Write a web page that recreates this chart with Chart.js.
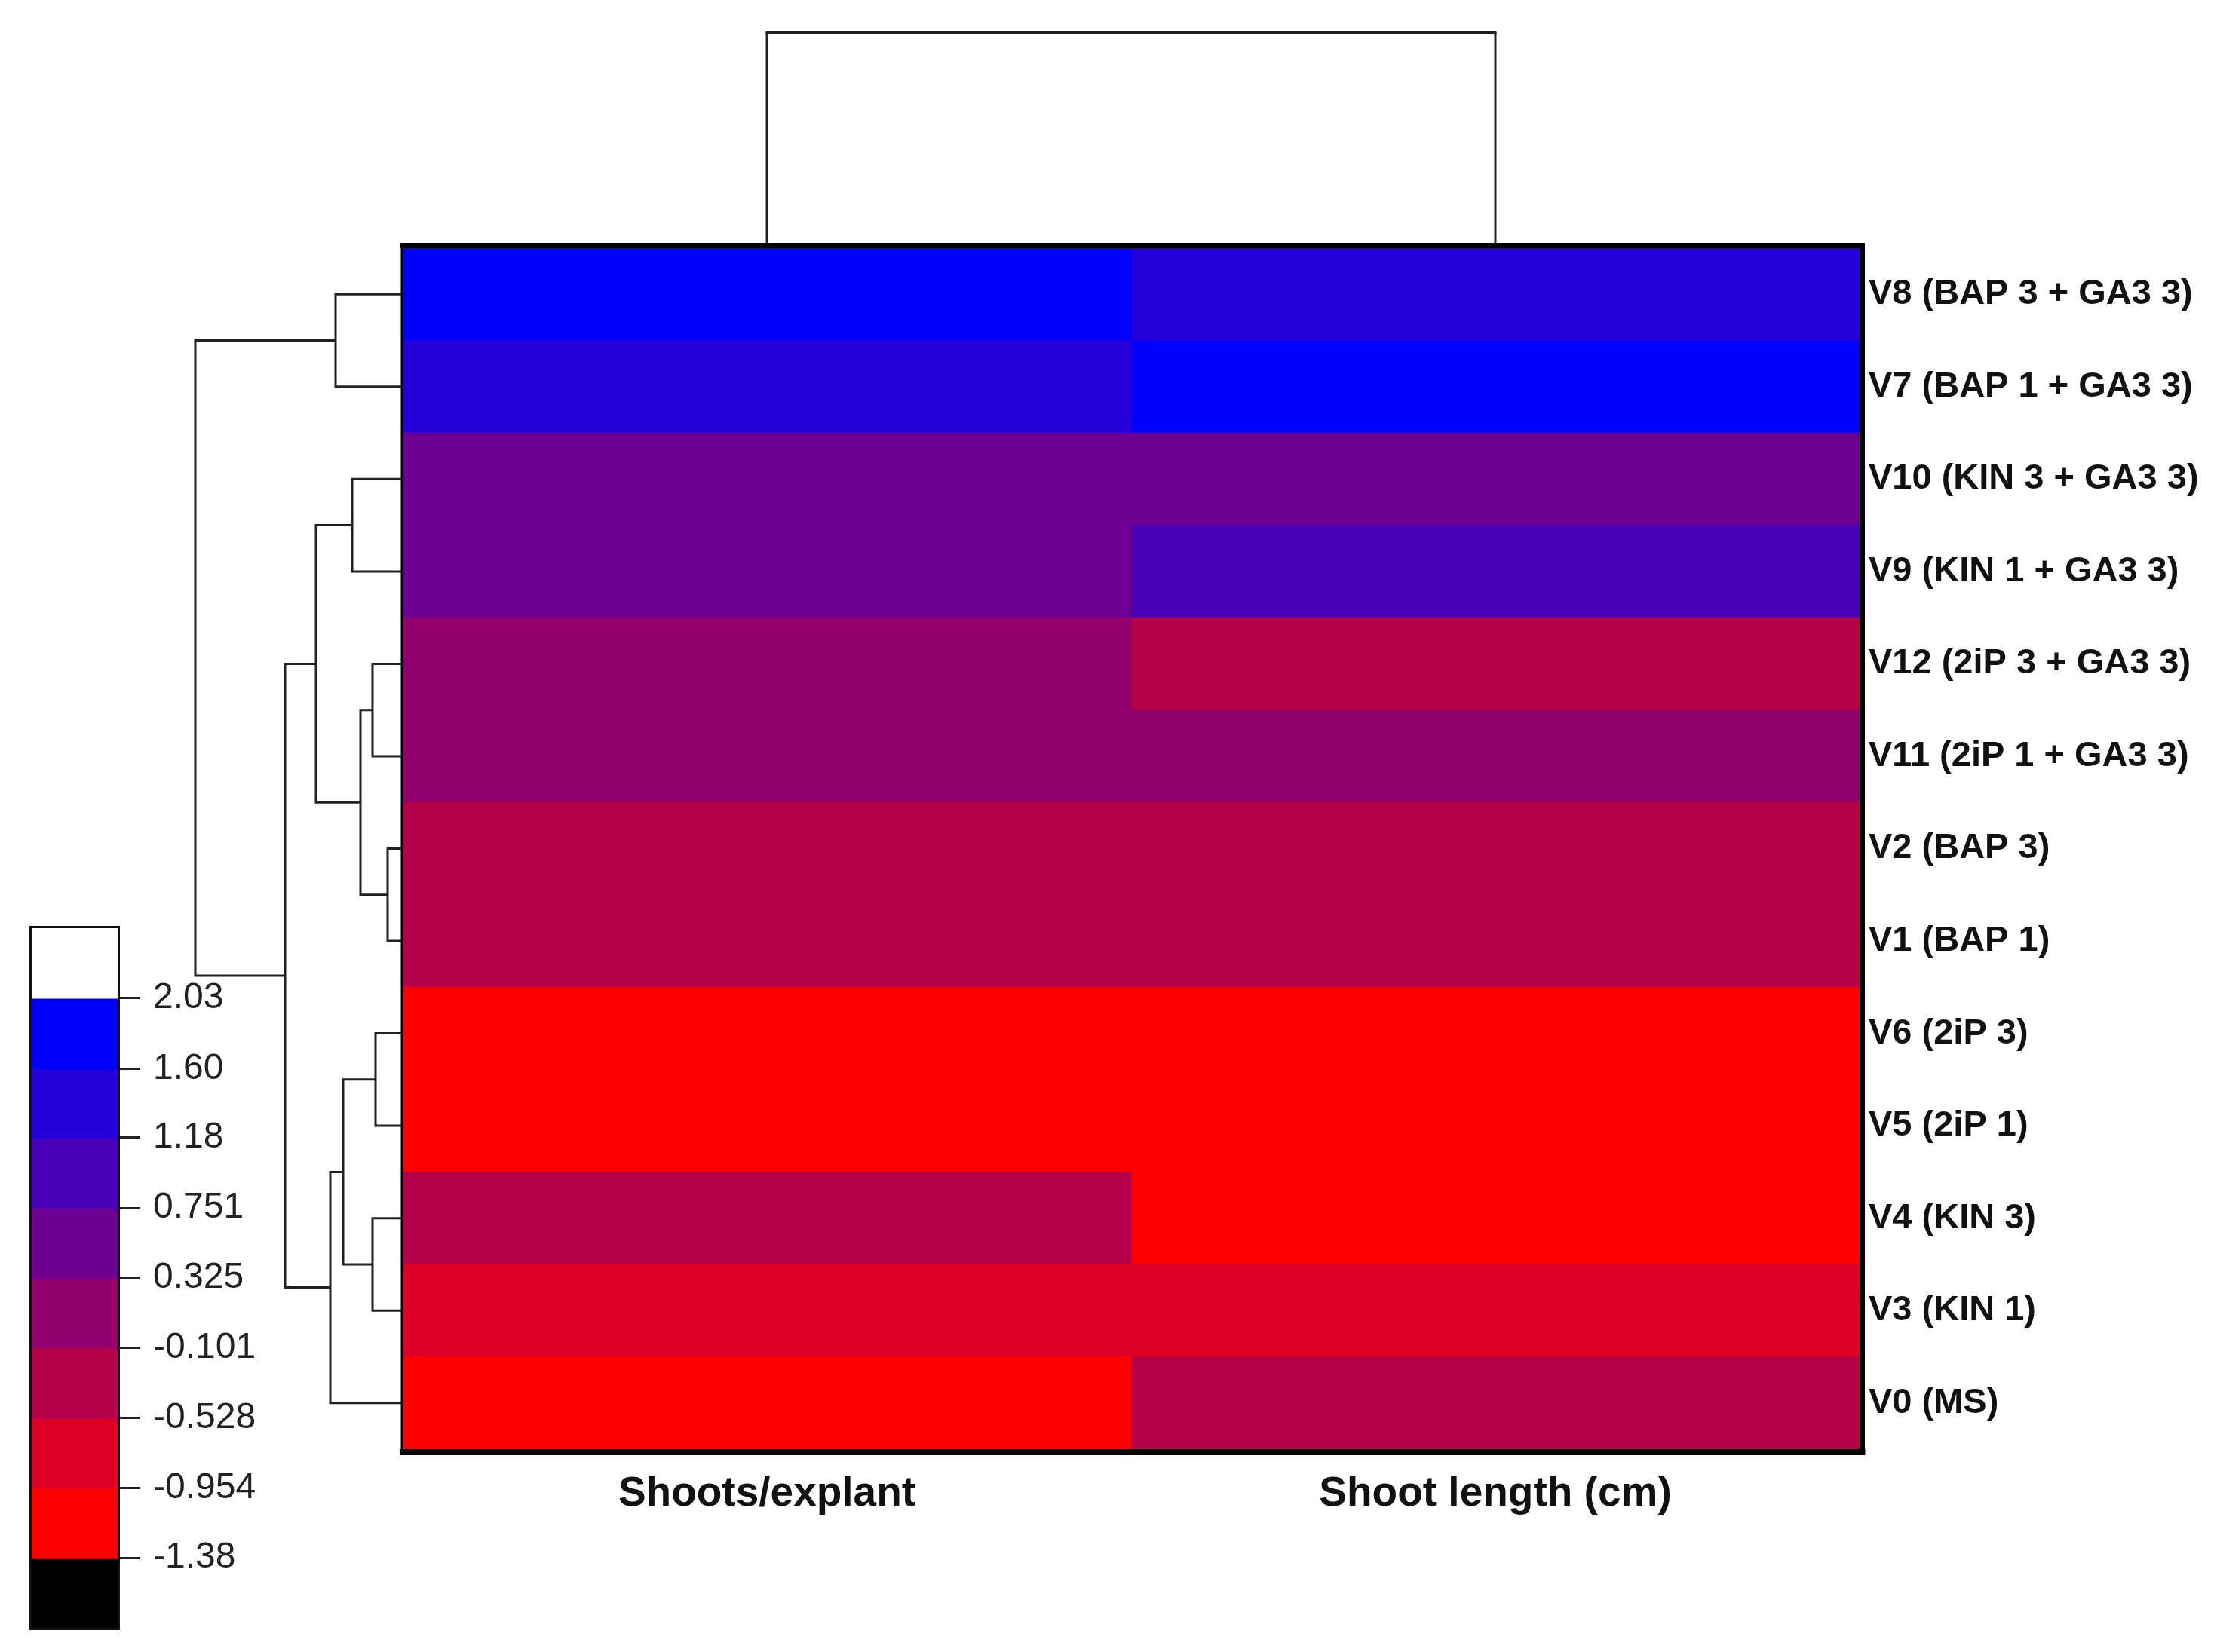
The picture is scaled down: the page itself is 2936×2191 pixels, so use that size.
<!DOCTYPE html>
<html>
<head>
<meta charset="utf-8">
<script src="https://cdn.jsdelivr.net/npm/chart.js@4.4.1/dist/chart.umd.min.js"></script>
<style>
  html, body { margin: 0; padding: 0; background: #ffffff; overflow: hidden; }
  #main { position: absolute; left: 0; top: 0; width: 2936px; height: 2191px; }
  #leg { position: absolute; left: 0; top: 1200px; width: 420px; height: 991px; }
</style>
</head>
<body>
<div id="leg"><canvas id="legCanvas"></canvas></div>
<div id="main"><canvas id="mainCanvas"></canvas></div>
<script>
// ---------- data ----------
const rowLabels = [
  "V8 (BAP 3 + GA3 3)", "V7 (BAP 1 + GA3 3)", "V10 (KIN 3 + GA3 3)", "V9 (KIN 1 + GA3 3)",
  "V12 (2iP 3 + GA3 3)", "V11 (2iP 1 + GA3 3)", "V2 (BAP 3)", "V1 (BAP 1)",
  "V6 (2iP 3)", "V5 (2iP 1)", "V4 (KIN 3)", "V3 (KIN 1)", "V0 (MS)"
];
const columnNames = ["Shoots/explant", "Shoot length (cm)"];
// standardized values, one array per column, rows in the order above
const shootsPerExplant = [1.98, 1.40, 0.55, 0.45, 0.10, 0.05, -0.35, -0.40, -1.20, -1.25, -0.50, -0.80, -1.35];
const shootLength      = [1.35, 2.00, 0.60, 0.90, -0.30, 0.00, -0.25, -0.35, -1.10, -1.15, -1.05, -0.75, -0.50];
// colour key
const legendTicks = [2.03, 1.60, 1.18, 0.751, 0.325, -0.101, -0.528, -0.954, -1.38];
const legendTickLabels = ["2.03", "1.60", "1.18", "0.751", "0.325", "-0.101", "-0.528", "-0.954", "-1.38"];
const legendColors = ["#FFFFFF", "#0000FF", "#2400DB", "#4900B6", "#6D0092", "#92006D", "#B60049", "#DB0024", "#FF0000", "#000000"];
// row dendrogram merges: [childA, childB, height]; leaves 0..12, new nodes 13..
const rowMerges = [
  [6, 7, 0.20], [8, 9, 0.36], [4, 5, 0.40], [10, 11, 0.40], [15, 13, 0.56], [2, 3, 0.67],
  [14, 16, 0.79], [0, 1, 0.89], [19, 12, 0.96], [18, 17, 1.15], [22, 21, 1.56], [20, 23, 2.75]
];
// column dendrogram merges
const colMerges = [[0, 1, 2.86]];

// ---------- helpers ----------
const FONT = "'Liberation Sans', Arial, Helvetica, sans-serif";
const ROW_PX = 100;   // px per distance unit (row tree)
const COL_PX = 100;   // px per distance unit (column tree)
const LINE = "#222222";

function colorFor(v) {
  for (let k = 0; k < legendTicks.length; k++) {
    if (v >= legendTicks[k]) return legendColors[k];
  }
  return legendColors[legendColors.length - 1];
}

const columns = [shootsPerExplant, shootLength];

// ---------- main heatmap ----------
const dendroPlugin = {
  id: 'dendro',
  afterDatasetsDraw(chart) {
    const ctx = chart.ctx;
    const a = chart.chartArea;
    const ys = chart.scales.y, xs = chart.scales.x;
    ctx.save();
    // borders
    ctx.strokeStyle = "#000000";
    ctx.lineCap = 'square';
    ctx.lineWidth = 7;
    ctx.beginPath();
    ctx.moveTo(a.left, a.top - 3.5); ctx.lineTo(a.right + 3.5, a.top - 3.5);
    ctx.moveTo(a.right + 3.5, a.top - 3.5); ctx.lineTo(a.right + 3.5, a.bottom + 4);
    ctx.stroke();
    ctx.lineWidth = 8;
    ctx.beginPath();
    ctx.moveTo(a.left, a.bottom + 4); ctx.lineTo(a.right + 3.5, a.bottom + 4);
    ctx.stroke();
    ctx.lineWidth = 3;
    ctx.lineCap = 'butt';
    ctx.beginPath();
    ctx.moveTo(a.left - 1, a.top - 7); ctx.lineTo(a.left - 1, a.bottom + 8);
    ctx.stroke();

    // row dendrogram
    ctx.strokeStyle = LINE;
    ctx.lineWidth = 3;
    ctx.lineJoin = 'miter';
    const pos = [], hx = [];
    rowLabels.forEach((_, i) => { pos[i] = ys.getPixelForValue(i); hx[i] = a.left - 2; });
    ctx.beginPath();
    rowMerges.forEach(([p, q, h], k) => {
      const id = rowLabels.length + k;
      const x = a.left - h * ROW_PX;
      ctx.moveTo(hx[p], pos[p]); ctx.lineTo(x, pos[p]); ctx.lineTo(x, pos[q]); ctx.lineTo(hx[q], pos[q]);
      pos[id] = (pos[p] + pos[q]) / 2; hx[id] = x;
    });
    ctx.stroke();

    // column dendrogram
    const cp = [], cy = [];
    columnNames.forEach((_, i) => { cp[i] = xs.getPixelForValue(i + 0.5); cy[i] = a.top - 7; });
    colMerges.forEach(([p, q, h], k) => {
      const id = columnNames.length + k;
      const y = a.top - h * COL_PX;
      ctx.lineWidth = 3;
      ctx.beginPath();
      ctx.moveTo(cp[p], cy[p]); ctx.lineTo(cp[p], y);
      ctx.moveTo(cp[q], y); ctx.lineTo(cp[q], cy[q]);
      ctx.stroke();
      ctx.lineWidth = 4;
      ctx.beginPath();
      ctx.moveTo(cp[p] - 1.5, y); ctx.lineTo(cp[q] + 1.5, y);
      ctx.stroke();
      cp[id] = (cp[p] + cp[q]) / 2; cy[id] = y;
    });
    ctx.restore();
  }
};

new Chart(document.getElementById('mainCanvas'), {
  type: 'bar',
  data: {
    labels: rowLabels,
    datasets: columns.map((vals, c) => ({
      label: columnNames[c],
      data: vals.map(() => [c, c + 1]),
      backgroundColor: vals.map(colorFor),
      borderWidth: 0,
      inflateAmount: 0.6,
      grouped: false,
      barPercentage: 1,
      categoryPercentage: 1
    }))
  },
  options: {
    indexAxis: 'y',
    responsive: true,
    maintainAspectRatio: false,
    animation: false,
    events: [],
    layout: { padding: { left: 534, top: 329, right: 0, bottom: 0 } },
    plugins: { legend: { display: false }, tooltip: { enabled: false }, title: { display: false } },
    scales: {
      x: {
        type: 'linear', min: 0, max: 2, position: 'bottom',
        grid: { display: false, drawTicks: false, tickLength: 0 },
        border: { display: false },
        afterBuildTicks: (s) => { s.ticks = columnNames.map((_, i) => ({ value: i + 0.5 })); },
        afterFit: (s) => { s.height = 2191 - 1922; },
        ticks: {
          autoSkip: false, maxRotation: 0, minRotation: 0, padding: 27,
          color: '#111111',
          font: { family: FONT, size: 55, weight: 'bold' },
          callback: (v, i) => columnNames[i]
        }
      },
      y: {
        type: 'category', position: 'right', offset: true,
        grid: { display: false, drawTicks: false, tickLength: 0 },
        border: { display: false },
        afterFit: (s) => { s.width = 2936 - 2466; },
        ticks: {
          autoSkip: false, padding: 12, color: '#111111',
          font: { family: FONT, size: 47, weight: 'bold' }
        }
      }
    }
  },
  plugins: [dendroPlugin]
});

// ---------- colour key ----------
const step = (legendTicks[0] - legendTicks[legendTicks.length - 1]) / (legendTicks.length - 1);
const keyMax = legendTicks[0] + step;
const keyMin = legendTicks[legendTicks.length - 1] - step;
const bandEdges = [keyMax, ...legendTicks, keyMin];

const keyBorder = {
  id: 'keyBorder',
  afterDatasetsDraw(chart) {
    const a = chart.chartArea, ctx = chart.ctx;
    ctx.save();
    ctx.strokeStyle = '#111111';
    ctx.lineWidth = 3;
    ctx.strokeRect(a.left - 1.5, a.top - 1.5, a.right - a.left + 3, a.bottom - a.top + 3);
    ctx.restore();
  }
};

new Chart(document.getElementById('legCanvas'), {
  type: 'bar',
  data: {
    labels: [''],
    datasets: legendColors.map((col, k) => ({
      data: [[bandEdges[k + 1], bandEdges[k]]],
      backgroundColor: col,
      borderWidth: 0,
      inflateAmount: 0.6,
      grouped: false,
      barPercentage: 1,
      categoryPercentage: 1
    }))
  },
  options: {
    responsive: true,
    maintainAspectRatio: false,
    animation: false,
    events: [],
    layout: { padding: { left: 42, top: 31, right: 0, bottom: 32 } },
    plugins: { legend: { display: false }, tooltip: { enabled: false } },
    scales: {
      x: { display: false },
      y: {
        type: 'linear', position: 'right', min: keyMin, max: keyMax,
        border: { display: false },
        grid: { display: true, drawOnChartArea: false, drawTicks: true, tickLength: 30, lineWidth: 3, color: '#222222' },
        afterBuildTicks: (s) => { s.ticks = legendTicks.map(v => ({ value: v })); },
        afterFit: (s) => { s.width = 420 - 156; s.paddingTop = 0; s.paddingBottom = 0; },
        ticks: {
          autoSkip: false, padding: 17, color: '#222222',
          font: { family: FONT, size: 48 },
          callback: (v, i) => legendTickLabels[i]
        }
      }
    }
  },
  plugins: [keyBorder]
});
</script>
</body>
</html>
